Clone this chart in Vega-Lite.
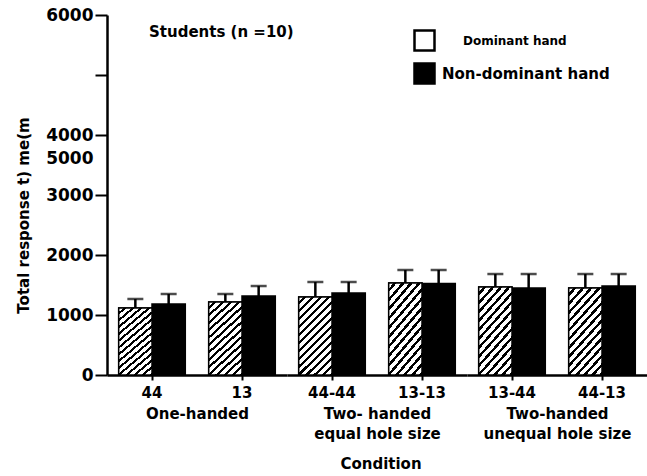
{
  "$schema": "https://vega.github.io/schema/vega-lite/v6.json",
  "padding": {"left": 16, "top": 6, "right": 0, "bottom": 0},
  "config": {"view": {"stroke": null}, "font": "DejaVu Sans"},
  "title": {"text": "Condition", "orient": "bottom", "anchor": "middle", "frame": "group", "offset": 16, "dx": 274, "font": "DejaVu Sans", "fontSize": 15, "fontWeight": "bold", "color": "black"},
  "bounds": "flush",
  "datasets": {
    "bars": [
      {"group": "One-handed", "cond": "44", "hand": "Dominant hand", "mean": 1117, "upper": 1267},
      {"group": "One-handed", "cond": "44", "hand": "Non-dominant hand", "mean": 1183, "upper": 1350},
      {"group": "One-handed", "cond": "13", "hand": "Dominant hand", "mean": 1217, "upper": 1350},
      {"group": "One-handed", "cond": "13", "hand": "Non-dominant hand", "mean": 1317, "upper": 1483},
      {"group": "Two-handed equal hole size", "cond": "44-44", "hand": "Dominant hand", "mean": 1300, "upper": 1550},
      {"group": "Two-handed equal hole size", "cond": "44-44", "hand": "Non-dominant hand", "mean": 1367, "upper": 1550},
      {"group": "Two-handed equal hole size", "cond": "13-13", "hand": "Dominant hand", "mean": 1533, "upper": 1750},
      {"group": "Two-handed equal hole size", "cond": "13-13", "hand": "Non-dominant hand", "mean": 1525, "upper": 1750},
      {"group": "Two-handed unequal hole size", "cond": "13-44", "hand": "Dominant hand", "mean": 1467, "upper": 1683},
      {"group": "Two-handed unequal hole size", "cond": "13-44", "hand": "Non-dominant hand", "mean": 1450, "upper": 1683},
      {"group": "Two-handed unequal hole size", "cond": "44-13", "hand": "Dominant hand", "mean": 1450, "upper": 1683},
      {"group": "Two-handed unequal hole size", "cond": "44-13", "hand": "Non-dominant hand", "mean": 1483, "upper": 1683}
    ]
  },
  "spacing": 0,
  "resolve": {"scale": {"x": "independent", "xOffset": "independent", "y": "shared", "fill": "shared"}},
  "hconcat": [
    {
      "width": 180, "height": 360,
      "layer": [
        {
          "data": {"name": "bars"},
          "transform": [{"filter": "datum.group == 'One-handed'"}],
          "mark": {"type": "bar", "stroke": "black", "strokeWidth": 1.5},
          "encoding": {
            "x": {"field": "cond", "type": "nominal", "sort": ["44", "13"], "scale": {"paddingInner": 0.26, "paddingOuter": 0.13},
              "axis": {"title": "One-handed", "labelAngle": 0, "labelFont": "DejaVu Sans", "labelFontSize": 15, "labelFontWeight": "bold", "labelColor": "black", "tickSize": 5, "tickWidth": 2, "tickColor": "black", "domainWidth": 2.5, "domainColor": "black", "labelPadding": 5,
                "titleFont": "DejaVu Sans", "titleFontSize": 15, "titleFontWeight": "bold", "titleColor": "black", "titlePadding": 6, "titleLineHeight": 20}},
            "xOffset": {"field": "hand", "type": "nominal", "sort": ["Dominant hand", "Non-dominant hand"], "scale": {"paddingInner": 0, "paddingOuter": 0}},
            "y": {"field": "mean", "type": "quantitative", "scale": {"domain": [0, 6000], "nice": false},
              "axis": {"title": "Total response t) me(m", "values": [0, 1000, 2000, 3000, 4000, 5000, 6000], "grid": false, "format": "d",
                "labelExpr": "datum.value == 4000 ? ['4000', '5000'] : (datum.value == 5000 ? '' : datum.label)",
                "labelLineHeight": 23,
                "labelFont": "DejaVu Sans", "labelFontSize": 17, "labelFontWeight": "bold", "labelColor": "black", "labelPadding": 2,
                "tickSize": 12, "tickWidth": 2, "tickColor": "black", "domainWidth": 2.5, "domainColor": "black",
                "titleFont": "DejaVu Sans", "titleFontSize": 15, "titleFontWeight": "bold", "titleColor": "black", "titlePadding": 14, "titleY": 200}},
            "fill": {"field": "hand", "type": "nominal", "scale": {"domain": ["Dominant hand", "Non-dominant hand"], "range": ["white", "black"]},
              "legend": {"title": null, "orient": "none", "legendX": 306, "legendY": 14, "symbolType": "square", "symbolSize": 400,
                "symbolStrokeColor": "black", "symbolStrokeWidth": 2.5, "labelFont": "DejaVu Sans", "labelFontWeight": "bold", "labelFontSize": 15,
                "labelColor": "black", "labelLimit": 300, "rowPadding": 2, "labelOffset": 6,
                "encode": {"labels": {"update": {"fontSize": {"signal": "datum.value == 'Dominant hand' ? 12 : 15"}, "dx": {"signal": "datum.value == 'Dominant hand' ? 21 : 0"}}}}}}
          }
        },
        {
          "data": {"name": "bars"},
          "transform": [{"filter": "datum.group == 'One-handed' && datum.hand == 'Dominant hand'"}],
          "mark": {"type": "bar", "stroke": "black", "strokeWidth": 1.5,
            "fill": {"gradient": "linear", "x1": 0, "y1": 0, "x2": 0.51, "y2": 1.21, "stops": [
              {"offset": 0, "color": "white"}, {"offset": 0.0429, "color": "white"}, {"offset": 0.0429, "color": "black"}, {"offset": 0.0714, "color": "black"},
              {"offset": 0.0714, "color": "white"}, {"offset": 0.1143, "color": "white"}, {"offset": 0.1143, "color": "black"}, {"offset": 0.1429, "color": "black"},
              {"offset": 0.1429, "color": "white"}, {"offset": 0.1857, "color": "white"}, {"offset": 0.1857, "color": "black"}, {"offset": 0.2143, "color": "black"},
              {"offset": 0.2143, "color": "white"}, {"offset": 0.2571, "color": "white"}, {"offset": 0.2571, "color": "black"}, {"offset": 0.2857, "color": "black"},
              {"offset": 0.2857, "color": "white"}, {"offset": 0.3286, "color": "white"}, {"offset": 0.3286, "color": "black"}, {"offset": 0.3571, "color": "black"},
              {"offset": 0.3571, "color": "white"}, {"offset": 0.4, "color": "white"}, {"offset": 0.4, "color": "black"}, {"offset": 0.4286, "color": "black"},
              {"offset": 0.4286, "color": "white"}, {"offset": 0.4714, "color": "white"}, {"offset": 0.4714, "color": "black"}, {"offset": 0.5, "color": "black"},
              {"offset": 0.5, "color": "white"}, {"offset": 0.5429, "color": "white"}, {"offset": 0.5429, "color": "black"}, {"offset": 0.5714, "color": "black"},
              {"offset": 0.5714, "color": "white"}, {"offset": 0.6143, "color": "white"}, {"offset": 0.6143, "color": "black"}, {"offset": 0.6429, "color": "black"},
              {"offset": 0.6429, "color": "white"}, {"offset": 0.6857, "color": "white"}, {"offset": 0.6857, "color": "black"}, {"offset": 0.7143, "color": "black"},
              {"offset": 0.7143, "color": "white"}, {"offset": 0.7571, "color": "white"}, {"offset": 0.7571, "color": "black"}, {"offset": 0.7857, "color": "black"},
              {"offset": 0.7857, "color": "white"}, {"offset": 0.8286, "color": "white"}, {"offset": 0.8286, "color": "black"}, {"offset": 0.8571, "color": "black"},
              {"offset": 0.8571, "color": "white"}, {"offset": 0.9, "color": "white"}, {"offset": 0.9, "color": "black"}, {"offset": 0.9286, "color": "black"},
              {"offset": 0.9286, "color": "white"}, {"offset": 0.9714, "color": "white"}, {"offset": 0.9714, "color": "black"}, {"offset": 1, "color": "black"}
            ]}},
          "encoding": {
            "x": {"field": "cond", "type": "nominal", "sort": ["44", "13"]},
            "xOffset": {"field": "hand", "type": "nominal", "sort": ["Dominant hand", "Non-dominant hand"]},
            "y": {"field": "mean", "type": "quantitative"}
          }
        },
        {
          "data": {"name": "bars"},
          "transform": [{"filter": "datum.group == 'One-handed'"}],
          "mark": {"type": "rule", "color": "black", "strokeWidth": 2.5},
          "encoding": {
            "x": {"field": "cond", "type": "nominal", "sort": ["44", "13"]},
            "xOffset": {"field": "hand", "type": "nominal", "sort": ["Dominant hand", "Non-dominant hand"]},
            "y": {"field": "mean", "type": "quantitative"},
            "y2": {"field": "upper"}
          }
        },
        {
          "data": {"name": "bars"},
          "transform": [{"filter": "datum.group == 'One-handed'"}],
          "mark": {"type": "tick", "color": "black", "size": 16, "thickness": 2.5, "orient": "horizontal"},
          "encoding": {
            "x": {"field": "cond", "type": "nominal", "sort": ["44", "13"]},
            "xOffset": {"field": "hand", "type": "nominal", "sort": ["Dominant hand", "Non-dominant hand"]},
            "y": {"field": "upper", "type": "quantitative"}
          }
        },
        {
          "data": {"values": [{"label": "Students  (n  =10)"}]},
          "mark": {"type": "text", "align": "left", "baseline": "middle", "dx": -3, "font": "DejaVu Sans", "fontSize": 15, "fontWeight": "bold", "color": "black"},
          "encoding": {
            "x": {"datum": "44", "type": "nominal", "sort": ["44", "13"]},
            "y": {"datum": 5720, "type": "quantitative"},
            "text": {"field": "label"}
          }
        }
      ]
    },
    {
      "width": 180, "height": 360,
      "layer": [
        {
          "data": {"name": "bars"},
          "transform": [{"filter": "datum.group == 'Two-handed equal hole size'"}],
          "mark": {"type": "bar", "stroke": "black", "strokeWidth": 1.5},
          "encoding": {
            "x": {"field": "cond", "type": "nominal", "sort": ["44-44", "13-13"], "scale": {"paddingInner": 0.26, "paddingOuter": 0.13},
              "axis": {"title": ["Two- handed", "equal hole size"], "labelAngle": 0, "labelFont": "DejaVu Sans", "labelFontSize": 15, "labelFontWeight": "bold", "labelColor": "black", "tickSize": 5, "tickWidth": 2, "tickColor": "black", "domainWidth": 2.5, "domainColor": "black", "labelPadding": 5,
                "titleFont": "DejaVu Sans", "titleFontSize": 15, "titleFontWeight": "bold", "titleColor": "black", "titlePadding": 6, "titleLineHeight": 20}},
            "xOffset": {"field": "hand", "type": "nominal", "sort": ["Dominant hand", "Non-dominant hand"], "scale": {"paddingInner": 0, "paddingOuter": 0}},
            "y": {"field": "mean", "type": "quantitative", "scale": {"domain": [0, 6000], "nice": false}, "axis": null},
            "fill": {"field": "hand", "type": "nominal", "scale": {"domain": ["Dominant hand", "Non-dominant hand"], "range": ["white", "black"]}}
          }
        },
        {
          "data": {"name": "bars"},
          "transform": [{"filter": "datum.group == 'Two-handed equal hole size' && datum.hand == 'Dominant hand'"}],
          "mark": {"type": "bar", "stroke": "black", "strokeWidth": 1.5,
            "fill": {"gradient": "linear", "x1": 0, "y1": 0, "x2": 0.51, "y2": 1.21, "stops": [
              {"offset": 0, "color": "white"}, {"offset": 0.0429, "color": "white"}, {"offset": 0.0429, "color": "black"}, {"offset": 0.0714, "color": "black"},
              {"offset": 0.0714, "color": "white"}, {"offset": 0.1143, "color": "white"}, {"offset": 0.1143, "color": "black"}, {"offset": 0.1429, "color": "black"},
              {"offset": 0.1429, "color": "white"}, {"offset": 0.1857, "color": "white"}, {"offset": 0.1857, "color": "black"}, {"offset": 0.2143, "color": "black"},
              {"offset": 0.2143, "color": "white"}, {"offset": 0.2571, "color": "white"}, {"offset": 0.2571, "color": "black"}, {"offset": 0.2857, "color": "black"},
              {"offset": 0.2857, "color": "white"}, {"offset": 0.3286, "color": "white"}, {"offset": 0.3286, "color": "black"}, {"offset": 0.3571, "color": "black"},
              {"offset": 0.3571, "color": "white"}, {"offset": 0.4, "color": "white"}, {"offset": 0.4, "color": "black"}, {"offset": 0.4286, "color": "black"},
              {"offset": 0.4286, "color": "white"}, {"offset": 0.4714, "color": "white"}, {"offset": 0.4714, "color": "black"}, {"offset": 0.5, "color": "black"},
              {"offset": 0.5, "color": "white"}, {"offset": 0.5429, "color": "white"}, {"offset": 0.5429, "color": "black"}, {"offset": 0.5714, "color": "black"},
              {"offset": 0.5714, "color": "white"}, {"offset": 0.6143, "color": "white"}, {"offset": 0.6143, "color": "black"}, {"offset": 0.6429, "color": "black"},
              {"offset": 0.6429, "color": "white"}, {"offset": 0.6857, "color": "white"}, {"offset": 0.6857, "color": "black"}, {"offset": 0.7143, "color": "black"},
              {"offset": 0.7143, "color": "white"}, {"offset": 0.7571, "color": "white"}, {"offset": 0.7571, "color": "black"}, {"offset": 0.7857, "color": "black"},
              {"offset": 0.7857, "color": "white"}, {"offset": 0.8286, "color": "white"}, {"offset": 0.8286, "color": "black"}, {"offset": 0.8571, "color": "black"},
              {"offset": 0.8571, "color": "white"}, {"offset": 0.9, "color": "white"}, {"offset": 0.9, "color": "black"}, {"offset": 0.9286, "color": "black"},
              {"offset": 0.9286, "color": "white"}, {"offset": 0.9714, "color": "white"}, {"offset": 0.9714, "color": "black"}, {"offset": 1, "color": "black"}
            ]}},
          "encoding": {
            "x": {"field": "cond", "type": "nominal", "sort": ["44-44", "13-13"]},
            "xOffset": {"field": "hand", "type": "nominal", "sort": ["Dominant hand", "Non-dominant hand"]},
            "y": {"field": "mean", "type": "quantitative", "axis": null}
          }
        },
        {
          "data": {"name": "bars"},
          "transform": [{"filter": "datum.group == 'Two-handed equal hole size'"}],
          "mark": {"type": "rule", "color": "black", "strokeWidth": 2.5},
          "encoding": {
            "x": {"field": "cond", "type": "nominal", "sort": ["44-44", "13-13"]},
            "xOffset": {"field": "hand", "type": "nominal", "sort": ["Dominant hand", "Non-dominant hand"]},
            "y": {"field": "mean", "type": "quantitative", "axis": null},
            "y2": {"field": "upper"}
          }
        },
        {
          "data": {"name": "bars"},
          "transform": [{"filter": "datum.group == 'Two-handed equal hole size'"}],
          "mark": {"type": "tick", "color": "black", "size": 16, "thickness": 2.5, "orient": "horizontal"},
          "encoding": {
            "x": {"field": "cond", "type": "nominal", "sort": ["44-44", "13-13"]},
            "xOffset": {"field": "hand", "type": "nominal", "sort": ["Dominant hand", "Non-dominant hand"]},
            "y": {"field": "upper", "type": "quantitative", "axis": null}
          }
        }
      ]
    },
    {
      "width": 180, "height": 360,
      "layer": [
        {
          "data": {"name": "bars"},
          "transform": [{"filter": "datum.group == 'Two-handed unequal hole size'"}],
          "mark": {"type": "bar", "stroke": "black", "strokeWidth": 1.5},
          "encoding": {
            "x": {"field": "cond", "type": "nominal", "sort": ["13-44", "44-13"], "scale": {"paddingInner": 0.26, "paddingOuter": 0.13},
              "axis": {"title": ["Two-handed", "unequal hole size"], "labelAngle": 0, "labelFont": "DejaVu Sans", "labelFontSize": 15, "labelFontWeight": "bold", "labelColor": "black", "tickSize": 5, "tickWidth": 2, "tickColor": "black", "domainWidth": 2.5, "domainColor": "black", "labelPadding": 5,
                "titleFont": "DejaVu Sans", "titleFontSize": 15, "titleFontWeight": "bold", "titleColor": "black", "titlePadding": 6, "titleLineHeight": 20}},
            "xOffset": {"field": "hand", "type": "nominal", "sort": ["Dominant hand", "Non-dominant hand"], "scale": {"paddingInner": 0, "paddingOuter": 0}},
            "y": {"field": "mean", "type": "quantitative", "scale": {"domain": [0, 6000], "nice": false}, "axis": null},
            "fill": {"field": "hand", "type": "nominal", "scale": {"domain": ["Dominant hand", "Non-dominant hand"], "range": ["white", "black"]}}
          }
        },
        {
          "data": {"name": "bars"},
          "transform": [{"filter": "datum.group == 'Two-handed unequal hole size' && datum.hand == 'Dominant hand'"}],
          "mark": {"type": "bar", "stroke": "black", "strokeWidth": 1.5,
            "fill": {"gradient": "linear", "x1": 0, "y1": 0, "x2": 0.51, "y2": 1.21, "stops": [
              {"offset": 0, "color": "white"}, {"offset": 0.0429, "color": "white"}, {"offset": 0.0429, "color": "black"}, {"offset": 0.0714, "color": "black"},
              {"offset": 0.0714, "color": "white"}, {"offset": 0.1143, "color": "white"}, {"offset": 0.1143, "color": "black"}, {"offset": 0.1429, "color": "black"},
              {"offset": 0.1429, "color": "white"}, {"offset": 0.1857, "color": "white"}, {"offset": 0.1857, "color": "black"}, {"offset": 0.2143, "color": "black"},
              {"offset": 0.2143, "color": "white"}, {"offset": 0.2571, "color": "white"}, {"offset": 0.2571, "color": "black"}, {"offset": 0.2857, "color": "black"},
              {"offset": 0.2857, "color": "white"}, {"offset": 0.3286, "color": "white"}, {"offset": 0.3286, "color": "black"}, {"offset": 0.3571, "color": "black"},
              {"offset": 0.3571, "color": "white"}, {"offset": 0.4, "color": "white"}, {"offset": 0.4, "color": "black"}, {"offset": 0.4286, "color": "black"},
              {"offset": 0.4286, "color": "white"}, {"offset": 0.4714, "color": "white"}, {"offset": 0.4714, "color": "black"}, {"offset": 0.5, "color": "black"},
              {"offset": 0.5, "color": "white"}, {"offset": 0.5429, "color": "white"}, {"offset": 0.5429, "color": "black"}, {"offset": 0.5714, "color": "black"},
              {"offset": 0.5714, "color": "white"}, {"offset": 0.6143, "color": "white"}, {"offset": 0.6143, "color": "black"}, {"offset": 0.6429, "color": "black"},
              {"offset": 0.6429, "color": "white"}, {"offset": 0.6857, "color": "white"}, {"offset": 0.6857, "color": "black"}, {"offset": 0.7143, "color": "black"},
              {"offset": 0.7143, "color": "white"}, {"offset": 0.7571, "color": "white"}, {"offset": 0.7571, "color": "black"}, {"offset": 0.7857, "color": "black"},
              {"offset": 0.7857, "color": "white"}, {"offset": 0.8286, "color": "white"}, {"offset": 0.8286, "color": "black"}, {"offset": 0.8571, "color": "black"},
              {"offset": 0.8571, "color": "white"}, {"offset": 0.9, "color": "white"}, {"offset": 0.9, "color": "black"}, {"offset": 0.9286, "color": "black"},
              {"offset": 0.9286, "color": "white"}, {"offset": 0.9714, "color": "white"}, {"offset": 0.9714, "color": "black"}, {"offset": 1, "color": "black"}
            ]}},
          "encoding": {
            "x": {"field": "cond", "type": "nominal", "sort": ["13-44", "44-13"]},
            "xOffset": {"field": "hand", "type": "nominal", "sort": ["Dominant hand", "Non-dominant hand"]},
            "y": {"field": "mean", "type": "quantitative", "axis": null}
          }
        },
        {
          "data": {"name": "bars"},
          "transform": [{"filter": "datum.group == 'Two-handed unequal hole size'"}],
          "mark": {"type": "rule", "color": "black", "strokeWidth": 2.5},
          "encoding": {
            "x": {"field": "cond", "type": "nominal", "sort": ["13-44", "44-13"]},
            "xOffset": {"field": "hand", "type": "nominal", "sort": ["Dominant hand", "Non-dominant hand"]},
            "y": {"field": "mean", "type": "quantitative", "axis": null},
            "y2": {"field": "upper"}
          }
        },
        {
          "data": {"name": "bars"},
          "transform": [{"filter": "datum.group == 'Two-handed unequal hole size'"}],
          "mark": {"type": "tick", "color": "black", "size": 16, "thickness": 2.5, "orient": "horizontal"},
          "encoding": {
            "x": {"field": "cond", "type": "nominal", "sort": ["13-44", "44-13"]},
            "xOffset": {"field": "hand", "type": "nominal", "sort": ["Dominant hand", "Non-dominant hand"]},
            "y": {"field": "upper", "type": "quantitative", "axis": null}
          }
        }
      ]
    }
  ]
}
